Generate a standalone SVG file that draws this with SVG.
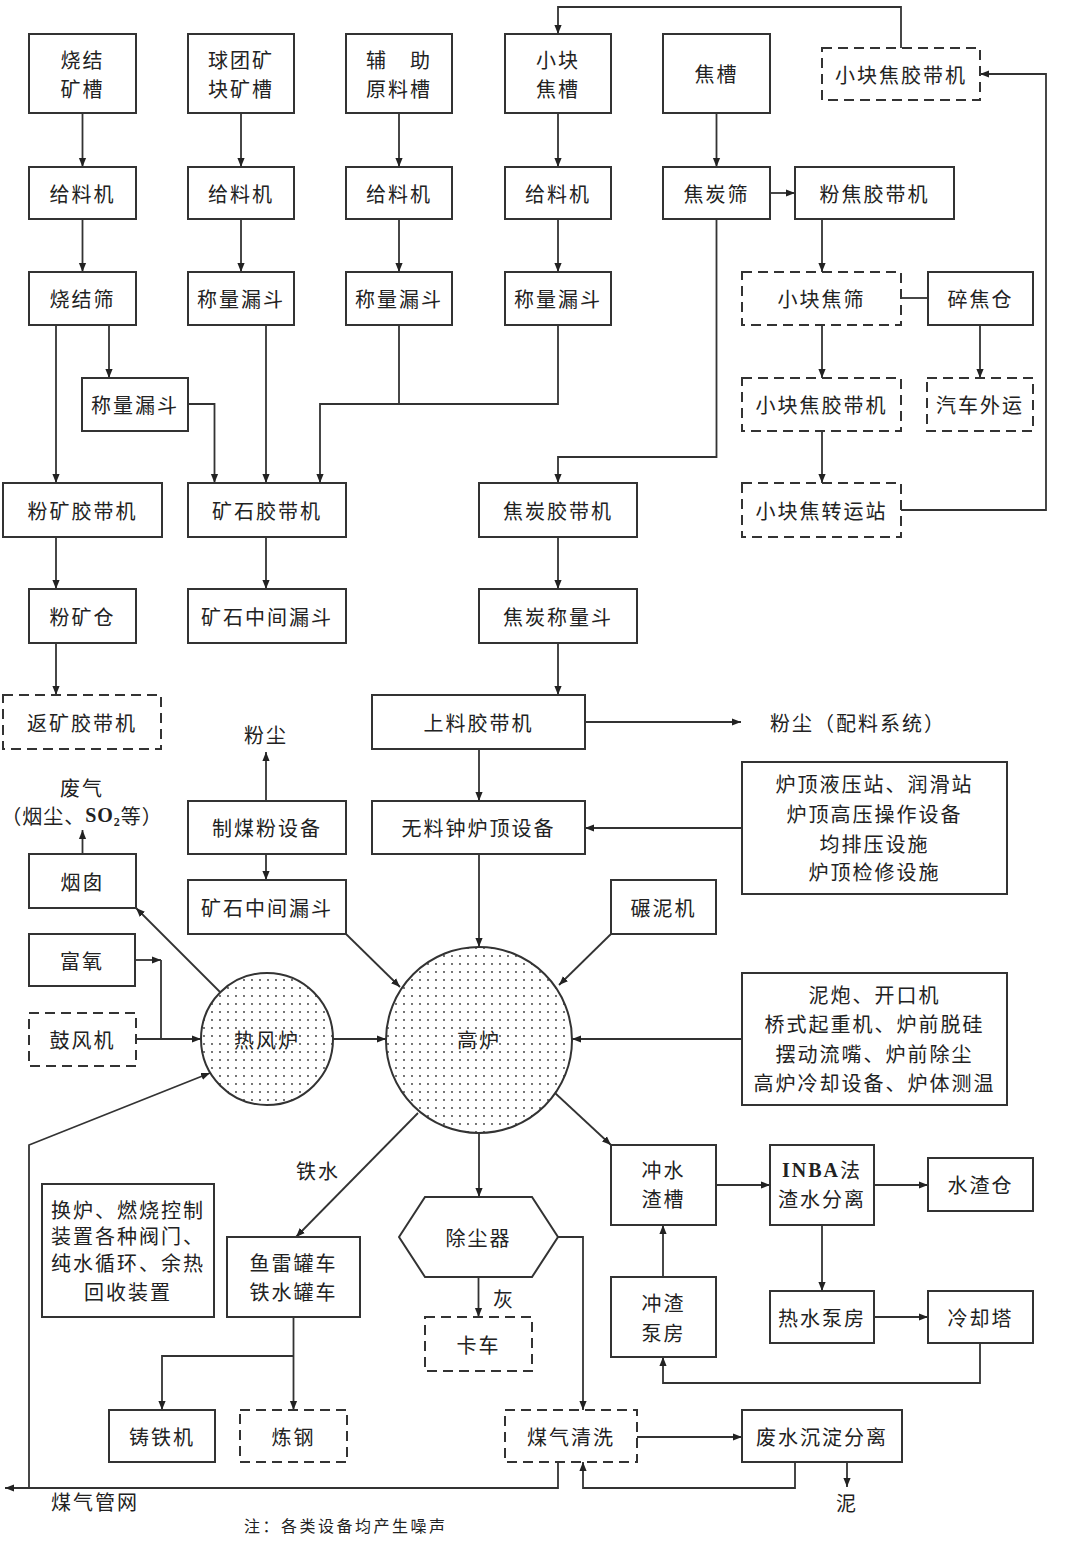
<svg xmlns="http://www.w3.org/2000/svg" width="1080" height="1550" viewBox="0 0 1080 1550">
<defs>
<style>
.b{fill:#fff;stroke:#333;stroke-width:2}
.d{stroke-dasharray:10 6}
.t{font-family:"Noto Sans CJK SC","Noto Sans",sans-serif;font-size:20px;letter-spacing:2px;fill:#222;text-anchor:middle;dominant-baseline:central}
.s{font-family:"Noto Sans CJK SC","Noto Sans",sans-serif;font-size:16px;letter-spacing:2.5px;fill:#222}
.c{fill:none;stroke:#333;stroke-width:1.8}
.r{font-family:"Liberation Serif",serif;font-weight:bold}
</style>
<marker id="a" viewBox="0 0 10 10" refX="10" refY="5" markerWidth="9" markerHeight="9" markerUnits="userSpaceOnUse" orient="auto"><path d="M0,1 L10,5 L0,9 z" fill="#222"/></marker>
<pattern id="dots" width="8" height="8" patternUnits="userSpaceOnUse"><rect width="8" height="8" fill="#fff"/><circle cx="4" cy="4" r="0.9" fill="#333"/></pattern>
</defs>
<rect width="1080" height="1550" fill="#fff"/>

<g id="connectors" class="c">
<path d="M82.5 113V167" marker-end="url(#a)"/>
<path d="M241 113V167" marker-end="url(#a)"/>
<path d="M399 113V167" marker-end="url(#a)"/>
<path d="M558 113V167" marker-end="url(#a)"/>
<path d="M716.5 113V167" marker-end="url(#a)"/>
<path d="M82.5 219V272" marker-end="url(#a)"/>
<path d="M241 219V272" marker-end="url(#a)"/>
<path d="M399 219V272" marker-end="url(#a)"/>
<path d="M558 219V272" marker-end="url(#a)"/>
<path d="M56 325V483" marker-end="url(#a)"/>
<path d="M109 325V378" marker-end="url(#a)"/>
<path d="M188 404H214.5V483" marker-end="url(#a)"/>
<path d="M266 325V483" marker-end="url(#a)"/>
<path d="M399 325V404"/>
<path d="M558 325V404H320V483" marker-end="url(#a)"/>
<path d="M770 193H795" marker-end="url(#a)"/>
<path d="M716.5 219V457H558V483" marker-end="url(#a)"/>
<path d="M822 219V272" marker-end="url(#a)"/>
<path d="M901 298H928"/>
<path d="M822 325V378" marker-end="url(#a)"/>
<path d="M980 325V378" marker-end="url(#a)"/>
<path d="M822 431V483" marker-end="url(#a)"/>
<path d="M901 510H1046V74H980" marker-end="url(#a)"/>
<path d="M901 48V7H558V34" marker-end="url(#a)"/>
<path d="M56 537V589" marker-end="url(#a)"/>
<path d="M266 537V589" marker-end="url(#a)"/>
<path d="M558 537V589" marker-end="url(#a)"/>
<path d="M56 643V695" marker-end="url(#a)"/>
<path d="M558 643V695" marker-end="url(#a)"/>
<path d="M585 722H741" marker-end="url(#a)"/>
<path d="M479 749V801" marker-end="url(#a)"/>
<path d="M742 828H585" marker-end="url(#a)"/>
<path d="M479 854V947" marker-end="url(#a)"/>
<path d="M266 801V752" marker-end="url(#a)"/>
<path d="M266 854V880" marker-end="url(#a)"/>
<path d="M82.5 854V830" marker-end="url(#a)"/>
<path d="M220 992L136 908" marker-end="url(#a)"/>
<path d="M346 934L400 987" marker-end="url(#a)"/>
<path d="M611 934L559 985" marker-end="url(#a)"/>
<path d="M135 960H161" marker-end="url(#a)"/>
<path d="M161 960V1039"/>
<path d="M136 1039H201" marker-end="url(#a)"/>
<path d="M333 1039H386" marker-end="url(#a)"/>
<path d="M742 1039H572" marker-end="url(#a)"/>
<path d="M555 1093L611 1145" marker-end="url(#a)"/>
<path d="M418 1113L296 1237" marker-end="url(#a)"/>
<path d="M479 1133V1197" marker-end="url(#a)"/>
<path d="M716 1185H770" marker-end="url(#a)"/>
<path d="M874 1185H928" marker-end="url(#a)"/>
<path d="M822 1225V1291" marker-end="url(#a)"/>
<path d="M874 1317H928" marker-end="url(#a)"/>
<path d="M980 1343V1383H663V1357" marker-end="url(#a)"/>
<path d="M663 1277V1225" marker-end="url(#a)"/>
<path d="M478.5 1277V1317" marker-end="url(#a)"/>
<path d="M558 1237H583V1410" marker-end="url(#a)"/>
<path d="M558 1462V1488H5" marker-end="url(#a)"/>
<path d="M29 1488V1145L210 1073" marker-end="url(#a)"/>
<path d="M637 1437H742" marker-end="url(#a)"/>
<path d="M795 1462V1488H583V1462" marker-end="url(#a)"/>
<path d="M847 1462V1487" marker-end="url(#a)"/>
<path d="M293.5 1317V1410" marker-end="url(#a)"/>
<path d="M293.5 1356H162V1410" marker-end="url(#a)"/>
</g>

<g id="n1"><rect class="b" x="29" y="34" width="107" height="79"/><text class="t" x="82.5" y="59">烧结</text><text class="t" x="82.5" y="88">矿槽</text></g>
<g id="n2"><rect class="b" x="188" y="34" width="106" height="79"/><text class="t" x="241" y="59">球团矿</text><text class="t" x="241" y="88">块矿槽</text></g>
<g id="n3"><rect class="b" x="346" y="34" width="106" height="79"/><text class="t" x="399" y="59">辅　助</text><text class="t" x="399" y="88">原料槽</text></g>
<g id="n4"><rect class="b" x="505" y="34" width="106" height="79"/><text class="t" x="558" y="59">小块</text><text class="t" x="558" y="88">焦槽</text></g>
<g id="n5"><rect class="b" x="663" y="34" width="107" height="79"/><text class="t" x="716.5" y="73.5">焦槽</text></g>
<g id="n6"><rect class="b d" x="822" y="48" width="158" height="52"/><text class="t" x="901" y="74">小块焦胶带机</text></g>

<g id="n7"><rect class="b" x="29" y="167" width="107" height="52"/><text class="t" x="82.5" y="193">给料机</text></g>
<g id="n8"><rect class="b" x="188" y="167" width="106" height="52"/><text class="t" x="241" y="193">给料机</text></g>
<g id="n9"><rect class="b" x="346" y="167" width="106" height="52"/><text class="t" x="399" y="193">给料机</text></g>
<g id="n10"><rect class="b" x="505" y="167" width="106" height="52"/><text class="t" x="558" y="193">给料机</text></g>
<g id="n11"><rect class="b" x="663" y="167" width="107" height="52"/><text class="t" x="716.5" y="193">焦炭筛</text></g>
<g id="n12"><rect class="b" x="795" y="167" width="159" height="52"/><text class="t" x="874.5" y="193">粉焦胶带机</text></g>

<g id="n13"><rect class="b" x="29" y="272" width="107" height="53"/><text class="t" x="82.5" y="298.5">烧结筛</text></g>
<g id="n14"><rect class="b" x="188" y="272" width="106" height="53"/><text class="t" x="241" y="298.5">称量漏斗</text></g>
<g id="n15"><rect class="b" x="346" y="272" width="106" height="53"/><text class="t" x="399" y="298.5">称量漏斗</text></g>
<g id="n16"><rect class="b" x="505" y="272" width="106" height="53"/><text class="t" x="558" y="298.5">称量漏斗</text></g>
<g id="n17"><rect class="b d" x="742" y="272" width="159" height="53"/><text class="t" x="821.5" y="298.5">小块焦筛</text></g>
<g id="n18"><rect class="b" x="928" y="272" width="105" height="53"/><text class="t" x="980.5" y="298.5">碎焦仓</text></g>

<g id="n19"><rect class="b" x="82" y="378" width="106" height="53"/><text class="t" x="135" y="404.5">称量漏斗</text></g>
<g id="n20"><rect class="b d" x="742" y="378" width="159" height="53"/><text class="t" x="821.5" y="404.5">小块焦胶带机</text></g>
<g id="n21"><rect class="b d" x="927" y="378" width="106" height="53"/><text class="t" x="980" y="404.5">汽车外运</text></g>

<g id="n22"><rect class="b" x="3" y="483" width="159" height="54"/><text class="t" x="82.5" y="510">粉矿胶带机</text></g>
<g id="n23"><rect class="b" x="188" y="483" width="158" height="54"/><text class="t" x="267" y="510">矿石胶带机</text></g>
<g id="n24"><rect class="b" x="479" y="483" width="158" height="54"/><text class="t" x="558" y="510">焦炭胶带机</text></g>
<g id="n25"><rect class="b d" x="742" y="483" width="159" height="54"/><text class="t" x="821.5" y="510">小块焦转运站</text></g>

<g id="n26"><rect class="b" x="29" y="589" width="107" height="54"/><text class="t" x="82.5" y="616">粉矿仓</text></g>
<g id="n27"><rect class="b" x="188" y="589" width="158" height="54"/><text class="t" x="267" y="616">矿石中间漏斗</text></g>
<g id="n28"><rect class="b" x="479" y="589" width="158" height="54"/><text class="t" x="558" y="616">焦炭称量斗</text></g>

<g id="n29"><rect class="b d" x="3" y="695" width="158" height="54"/><text class="t" x="82" y="722">返矿胶带机</text></g>
<g id="n30"><rect class="b" x="372" y="695" width="213" height="54"/><text class="t" x="478.5" y="722">上料胶带机</text></g>
<g id="l1"><text class="t" x="266" y="734">粉尘</text></g>
<g id="l2"><text class="t" x="770" y="722" style="text-anchor:start">粉尘（配料系统）</text></g>

<g id="l3"><text class="t" x="82" y="787">废气</text><text class="t" x="82" y="815" style="letter-spacing:1px">（烟尘、<tspan class="r">SO</tspan><tspan class="r" font-size="12" baseline-shift="sub">2</tspan>等）</text></g>
<g id="n31"><rect class="b" x="188" y="801" width="158" height="53"/><text class="t" x="267" y="827.5">制煤粉设备</text></g>
<g id="n32"><rect class="b" x="372" y="801" width="213" height="53"/><text class="t" x="478.5" y="827.5">无料钟炉顶设备</text></g>
<g id="n33"><rect class="b" x="742" y="762" width="265" height="132"/><text class="t" x="874.5" y="783">炉顶液压站、润滑站</text><text class="t" x="874.5" y="813">炉顶高压操作设备</text><text class="t" x="874.5" y="843">均排压设施</text><text class="t" x="874.5" y="871">炉顶检修设施</text></g>
<g id="n34"><rect class="b" x="29" y="854" width="107" height="54"/><text class="t" x="82.5" y="881">烟囱</text></g>
<g id="n35"><rect class="b" x="188" y="880" width="158" height="54"/><text class="t" x="267" y="907">矿石中间漏斗</text></g>
<g id="n36"><rect class="b" x="611" y="880" width="105" height="54"/><text class="t" x="663.5" y="907">碾泥机</text></g>

<g id="n37"><rect class="b" x="29" y="934" width="106" height="52"/><text class="t" x="82" y="960">富氧</text></g>
<g id="n38"><rect class="b d" x="29" y="1013" width="107" height="53"/><text class="t" x="82.5" y="1039.5">鼓风机</text></g>
<g id="n39"><circle cx="267" cy="1039" r="66" fill="url(#dots)" stroke="#333" stroke-width="2"/><text class="t" x="267" y="1039">热风炉</text></g>
<g id="n40"><circle cx="479" cy="1040" r="93" fill="url(#dots)" stroke="#333" stroke-width="2"/><text class="t" x="479" y="1039">高炉</text></g>
<g id="n41"><rect class="b" x="742" y="973" width="265" height="132"/><text class="t" x="874.5" y="994">泥炮、开口机</text><text class="t" x="874.5" y="1023.5">桥式起重机、炉前脱硅</text><text class="t" x="874.5" y="1053">摆动流嘴、炉前除尘</text><text class="t" x="874.5" y="1082.5">高炉冷却设备、炉体测温</text></g>

<g id="l4"><text class="t" x="318" y="1170">铁水</text></g>
<g id="n42"><rect class="b" x="611" y="1145" width="105" height="80"/><text class="t" x="663.5" y="1169.5">冲水</text><text class="t" x="663.5" y="1198.5">渣槽</text></g>
<g id="n43"><rect class="b" x="770" y="1145" width="104" height="80"/><text class="t" x="822" y="1169.5"><tspan class="r">INBA</tspan>法</text><text class="t" x="822" y="1198.5">渣水分离</text></g>
<g id="n44"><rect class="b" x="928" y="1158" width="105" height="53"/><text class="t" x="980.5" y="1184.5">水渣仓</text></g>
<g id="n45"><rect class="b" x="42" y="1184" width="172" height="133"/><text class="t" x="128" y="1209">换炉、燃烧控制</text><text class="t" x="128" y="1235.5">装置各种阀门、</text><text class="t" x="128" y="1262">纯水循环、余热</text><text class="t" x="128" y="1291.5">回收装置</text></g>
<g id="n46"><rect class="b" x="227" y="1237" width="133" height="80"/><text class="t" x="293.5" y="1262">鱼雷罐车</text><text class="t" x="293.5" y="1291">铁水罐车</text></g>
<g id="n47"><polygon class="b" points="399,1237 425,1197 532,1197 558,1237 532,1277 425,1277"/><text class="t" x="478.5" y="1237">除尘器</text></g>
<g id="l5"><text class="t" x="504" y="1298">灰</text></g>
<g id="n48"><rect class="b d" x="425" y="1317" width="107" height="54"/><text class="t" x="478.5" y="1344">卡车</text></g>
<g id="n49"><rect class="b" x="611" y="1277" width="105" height="80"/><text class="t" x="663.5" y="1302">冲渣</text><text class="t" x="663.5" y="1332">泵房</text></g>
<g id="n50"><rect class="b" x="770" y="1291" width="104" height="52"/><text class="t" x="822" y="1317">热水泵房</text></g>
<g id="n51"><rect class="b" x="928" y="1291" width="105" height="52"/><text class="t" x="980.5" y="1317">冷却塔</text></g>
<g id="n52"><rect class="b" x="109" y="1410" width="106" height="52"/><text class="t" x="162" y="1436">铸铁机</text></g>
<g id="n53"><rect class="b d" x="240" y="1410" width="107" height="52"/><text class="t" x="293.5" y="1436">炼钢</text></g>
<g id="n54"><rect class="b d" x="505" y="1410" width="132" height="52"/><text class="t" x="571" y="1436">煤气清洗</text></g>
<g id="n55"><rect class="b" x="742" y="1410" width="160" height="52"/><text class="t" x="822" y="1436">废水沉淀分离</text></g>
<g id="l6"><text class="t" x="51" y="1501" style="text-anchor:start">煤气管网</text></g>
<g id="l7"><text class="t" x="847" y="1502">泥</text></g>
<g id="l8"><text class="s" x="244" y="1532">注：各类设备均产生噪声</text></g>
</svg>
